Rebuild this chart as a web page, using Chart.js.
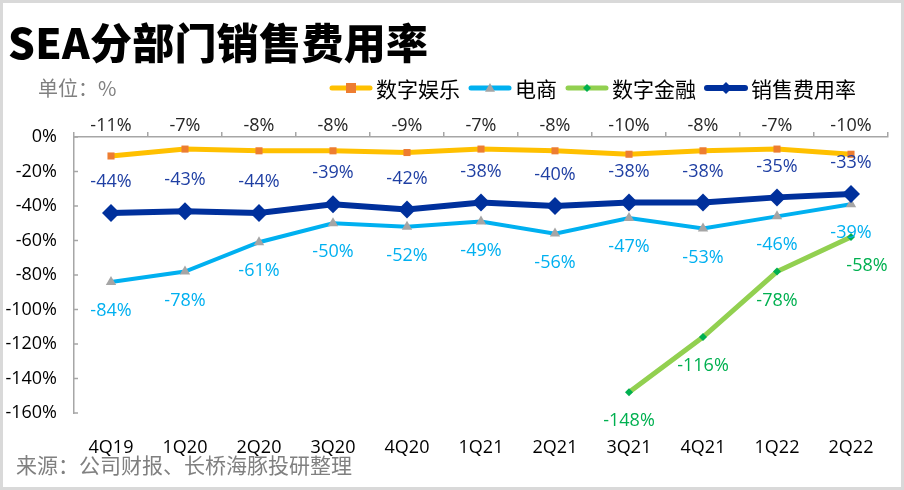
<!DOCTYPE html>
<html>
<head>
<meta charset="utf-8">
<script src="https://cdn.jsdelivr.net/npm/chart.js@4.4.1/dist/chart.umd.min.js"></script>
<style>
    html, body { margin: 0; padding: 0; background: #fff; }
    #wrap { position: relative; width: 904px; height: 490px; overflow: hidden; }
    #chart { position: absolute; left: 0; top: 0; }
    .frame { position: absolute; left: 0; top: 0; width: 904px; height: 490px; box-sizing: border-box; border: 3px solid #d9d9d9; pointer-events: none; }
    .title { position: absolute; left: 8px; top: 16px; font: 900 42px "Noto Sans CJK SC", sans-serif; color: #000; line-height: 1.2; white-space: nowrap; letter-spacing: 0.3px; }
    .unit { position: absolute; left: 38px; top: 76px; font: 20px "Noto Sans CJK SC", sans-serif; color: #808080; line-height: 1.2; }
    .source { position: absolute; left: 16px; top: 452px; font: 21px "Noto Sans CJK SC", sans-serif; color: #808080; line-height: 1.2; white-space: nowrap; }
</style>
</head>
<body>
<div id="wrap">
    <canvas id="chart" width="904" height="490"></canvas>
    <div class="title">SEA分部门销售费用率</div>
    <div class="unit">单位：%</div>
    <div class="source">来源：公司财报、长桥海豚投研整理</div>
    <div class="frame"></div>
</div>
<script>
const quarters = ["4Q19", "1Q20", "2Q20", "3Q20", "4Q20", "1Q21", "2Q21", "3Q21", "4Q21", "1Q22", "2Q22"];
const entertainment = [-11, -7, -8, -8, -9, -7, -8, -10, -8, -7, -10];
const ecommerce = [-84, -78, -61, -50, -52, -49, -56, -47, -53, -46, -39];
const fintech = [null, null, null, null, null, null, null, -148, -116, -78, -58];
const salesRate = [-44, -43, -44, -39, -42, -38, -40, -38, -38, -35, -33];
const seriesNames = ["数字娱乐", "电商", "数字金融", "销售费用率"];

const numFont = '"Open Sans", "Noto Sans CJK SC", sans-serif';
const axisGray = "#a6a6a6";

// where each series puts its value labels
const labelPos = (di, i, pt, area, last) => {
    if (di === 0) return { x: pt.x, y: area.top - 11 };
    if (di === 1) return { x: pt.x, y: pt.y + 29 };
    if (di === 2) return { x: i === last ? pt.x + 16 : pt.x, y: pt.y + 29 };
    return { x: pt.x, y: pt.y - 31 };
};

const valueLabels = {
    id: "valueLabels",
    afterDatasetsDraw(chart) {
        const ctx = chart.ctx;
        ctx.save();
        ctx.font = "18px " + numFont;
        ctx.textAlign = "center";
        ctx.textBaseline = "middle";
        chart.data.datasets.forEach((ds, di) => {
            const meta = chart.getDatasetMeta(di);
            meta.data.forEach((pt, i) => {
                const v = ds.data[i];
                if (v === null) return;
                const p = labelPos(di, i, pt, chart.chartArea, ds.data.length - 1);
                ctx.fillStyle = ds.labelColor;
                ctx.fillText(v + "%", p.x, p.y);
            });
        });
        ctx.restore();
    }
};

// y axis ticks point inward in the original
const innerTicks = {
    id: "innerTicks",
    afterDraw(chart) {
        const ctx = chart.ctx;
        const y = chart.scales.y;
        const left = chart.chartArea.left;
        ctx.save();
        ctx.strokeStyle = axisGray;
        ctx.lineWidth = 1.5;
        y.ticks.forEach(t => {
            const py = y.getPixelForValue(t.value);
            ctx.beginPath();
            ctx.moveTo(left, py);
            ctx.lineTo(left + 4, py);
            ctx.stroke();
        });
        ctx.restore();
    }
};

const drawMarker = (ctx, style, x, y, r, color) => {
    ctx.fillStyle = color;
    ctx.beginPath();
    if (style === "rect") {
        ctx.rect(x - r, y - r, r * 2, r * 2);
    } else if (style === "triangle") {
        ctx.moveTo(x, y - r);
        ctx.lineTo(x + r, y + r * 0.75);
        ctx.lineTo(x - r, y + r * 0.75);
        ctx.closePath();
    } else {
        ctx.moveTo(x, y - r);
        ctx.lineTo(x + r, y);
        ctx.lineTo(x, y + r);
        ctx.lineTo(x - r, y);
        ctx.closePath();
    }
    ctx.fill();
};

const legendBox = {
    id: "legendBox",
    afterDraw(chart) {
        const ctx = chart.ctx;
        const lineLen = 44, gap = 3, itemGap = 8, yMid = 88, right = 856;
        ctx.save();
        ctx.font = '21px "Noto Sans CJK SC", sans-serif';
        ctx.textBaseline = "middle";
        const widths = chart.data.datasets.map(ds => lineLen + gap + ctx.measureText(ds.label).width);
        let x = right - widths.reduce((a, b) => a + b, 0) - itemGap * (widths.length - 1);
        chart.data.datasets.forEach((ds, di) => {
            ctx.strokeStyle = ds.borderColor;
            ctx.lineWidth = ds.legendLine;
            ctx.lineCap = "round";
            ctx.beginPath();
            ctx.moveTo(x + 3, yMid);
            ctx.lineTo(x + lineLen - 3, yMid);
            ctx.stroke();
            drawMarker(ctx, ds.pointStyle, x + lineLen / 2, yMid, ds.legendMarker, ds.pointBackgroundColor);
            ctx.fillStyle = "#000";
            ctx.textAlign = "left";
            ctx.fillText(ds.label, x + lineLen + gap, yMid + 1);
            x += widths[di] + itemGap;
        });
        ctx.restore();
    }
};

new Chart(document.getElementById("chart"), {
    type: "line",
    data: {
        labels: quarters,
        datasets: [
            { label: seriesNames[0], data: entertainment, borderColor: "#ffc000", borderWidth: 5, pointStyle: "rect", pointRadius: 5, pointBackgroundColor: "#ed7d31", pointBorderWidth: 0, labelColor: "#262626", legendLine: 5, legendMarker: 5, order: 1 },
            { label: seriesNames[1], data: ecommerce, borderColor: "#00b0f0", borderWidth: 4, pointStyle: "triangle", pointRadius: 6, pointBackgroundColor: "#a5a5a5", pointBorderWidth: 0, labelColor: "#00b0f0", legendLine: 5, legendMarker: 5, order: 2 },
            { label: seriesNames[2], data: fintech, borderColor: "#92d050", borderWidth: 5, pointStyle: "rectRot", pointRadius: 4, pointBackgroundColor: "#00b050", pointBorderWidth: 0, labelColor: "#00b050", legendLine: 5, legendMarker: 4, order: 3 },
            { label: seriesNames[3], data: salesRate, borderColor: "#00309c", borderWidth: 6, pointStyle: "rectRot", pointRadius: 9, pointBackgroundColor: "#00309c", pointBorderWidth: 0, labelColor: "#1f3fa3", legendLine: 6, legendMarker: 6, order: 0 }
        ]
    },
    options: {
        responsive: false,
        animation: false,
        layout: { padding: { top: 131, right: 16, bottom: 0, left: 0 } },
        plugins: { legend: { display: false }, tooltip: { enabled: false } },
        elements: { line: { tension: 0 } },
        scales: {
            x: {
                position: "bottom",
                offset: true,
                grid: { display: false },
                border: { display: false },
                ticks: { color: "#000", font: { size: 18, family: numFont }, padding: 16, maxRotation: 0 },
                afterFit: s => { s.height = 77; }
            },
            x2: {
                type: "category",
                labels: quarters,
                position: "top",
                offset: true,
                grid: { offset: true, drawOnChartArea: false, tickLength: 5, color: axisGray, lineWidth: 1.5 },
                border: { display: true, color: axisGray, width: 1.5 },
                ticks: { display: false },
                afterFit: s => { s.height = 6; }
            },
            y: {
                min: -160,
                max: 0,
                grid: { drawOnChartArea: false, drawTicks: false },
                border: { display: true, color: axisGray, width: 1.5 },
                ticks: { stepSize: 20, color: "#000", font: { size: 18, family: numFont }, padding: 17, callback: v => v + "%" },
                afterFit: s => { s.width = 74; }
            }
        }
    },
    plugins: [valueLabels, innerTicks, legendBox]
});
</script>
</body>
</html>
